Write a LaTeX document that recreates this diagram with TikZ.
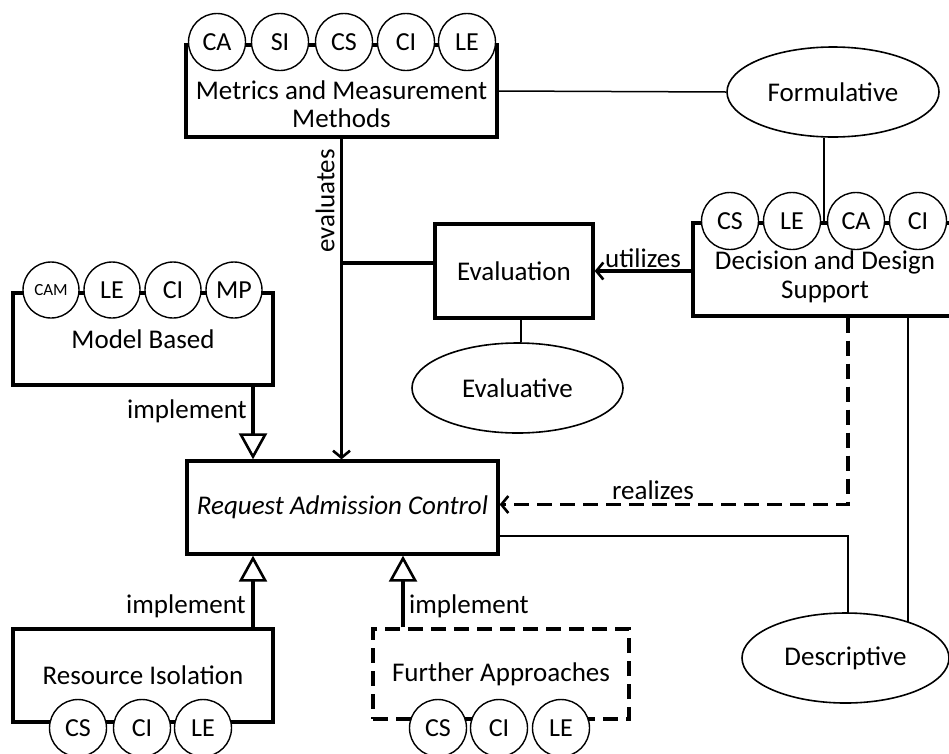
\documentclass[tikz,border=0pt]{standalone}
\usepackage{fontspec}
\setmainfont{Carlito}
\usetikzlibrary{arrows.meta,shapes.geometric}
\begin{document}
\begin{tikzpicture}[x=1pt,y=-1pt,
 every node/.style={font=\fontsize{27}{28.5}\selectfont},
 box/.style={draw, line width=3.3pt, fill=white, inner sep=0pt},
 tag/.style={circle, draw, line width=1.4pt, fill=white, minimum size=57pt, inner sep=0pt, font=\fontsize{26}{26}\selectfont},
 oval/.style={ellipse, draw, line width=1.6pt, inner sep=0pt},
 txt/.style={align=center, inner sep=0pt},
 thinline/.style={line width=1.5pt},
 thickline/.style={line width=3.2pt},
 barb/.style={-{Straight Barb[length=7pt,width=17pt,line width=2.6pt]}},
 impl/.style={-{Triangle[open,length=26pt,width=28pt,line width=2.6pt]}},
 dashline/.style={dash pattern=on 15pt off 8pt},
]
\useasboundingbox (0,0) rectangle (949,753);
\clip (0,0) rectangle (949,753);
\fill[white] (0,0) rectangle (949,753);

\node[box, minimum width=311pt, minimum height=92pt] (metrics) at (341.5,91) {};
\node[oval, minimum width=212pt, minimum height=90pt] (form) at (833,92) {Formulative};
\node[box, minimum width=267pt, minimum height=93pt] (dec) at (826.5,269.5) {};
\node[box, minimum width=158pt, minimum height=94pt] (eval) at (514,271) {Evaluation};
\node[oval, minimum width=211pt, minimum height=90pt] (evalv) at (517.5,388) {Evaluative};
\node[box, minimum width=260pt, minimum height=92pt] (model) at (143,339) {};
\node[box, minimum width=311pt, minimum height=93pt] (req) at (342.5,507.5) {\itshape Request Admission Control};
\node[box, minimum width=260pt, minimum height=93pt] (res) at (143,675.5) {};
\node[box, dashline, minimum width=256pt, minimum height=90pt] (fur) at (501,674) {};
\node[oval, minimum width=207pt, minimum height=90pt] (desc) at (845.5,658) {Descriptive};

% tag circles
\foreach \n/\x/\t in {m1/217/CA, m2/280/SI, m3/344/CS, m4/406/CI, m5/467/LE}
  \node[tag] (\n) at (\x,42) {\t};
\foreach \n/\x/\t in {d1/730/CS, d2/792/LE, d3/856/CA, d4/918/CI}
  \node[tag] (\n) at (\x,221) {\t};
\node[tag, minimum size=56pt, font=\fontsize{17}{17}\selectfont] (b1) at (51,290) {CAM};
\foreach \n/\x/\t in {b2/112/LE, b3/173/CI, b4/234/MP}
  \node[tag, minimum size=56pt] (\n) at (\x,290) {\t};
\foreach \n/\x/\t in {r1/78/CS, r2/142/CI, r3/203/LE}
  \node[tag] (\n) at (\x,728) {\t};
\foreach \n/\x/\t in {f1/438/CS, f2/499/CI, f3/561/LE}
  \node[tag] (\n) at (\x,728) {\t};

% box texts
\node[txt] (metricst) at (341.5,104) {Metrics and Measurement\\Methods};
\node[txt] (dect) at (825,277) {Decision and Design\\Support};
\node[txt] (modelt) at (143,339) {Model Based};
\node[txt] (rest) at (143,675) {Resource Isolation};
\node[txt] (furt) at (501,674) {Further Approaches};

% connectors
\draw[thinline] (metrics.east) -- (form.west);
\draw[thinline] ([xshift=-9pt]form.south) -- ([xshift=-9pt]form.south |- dec.north);
\draw[thickline, barb] (metrics.south) -- (metrics.south |- req.north);
\draw[thickline] ([yshift=8pt]eval.west) -- ([yshift=8pt]eval.west -| metrics.south);
\draw[thickline, barb] (dec.west |- eval.east) -- (eval.east);
\draw[thinline] ([xshift=7pt]eval.south) -- ([xshift=7pt]eval.south |- evalv.north);
\draw[thickline, impl] ([xshift=110pt]model.south) -- ([xshift=110pt]model.south |- req.north);
\draw[thickline, impl] ([xshift=110pt]res.north) -- ([xshift=110pt]res.north |- req.south);
\draw[thickline, impl] ([xshift=-98pt]fur.north) -- ([xshift=-98pt]fur.north |- req.south);
\draw[thickline, dashline, barb] ([xshift=21.5pt]dec.south) |- ([yshift=3pt]req.east);
\draw[thinline] ([yshift=-28.5pt]req.east) -| ([xshift=2.5pt]desc.north);
\draw[thinline] ([xshift=81.5pt]dec.south) -- ([xshift=62.5pt,yshift=35.9pt]desc.center);

% connector labels
\node[rotate=90] (evl) at (325,201) {evaluates};
\node (utl) at (643,258) {utilizes};
\node (rel) at (653,490) {realizes};
\node (im1) at (187,411) {implement};
\node (im2) at (186,606) {implement};
\node (im3) at (469,606) {implement};
\end{tikzpicture}
\end{document}
